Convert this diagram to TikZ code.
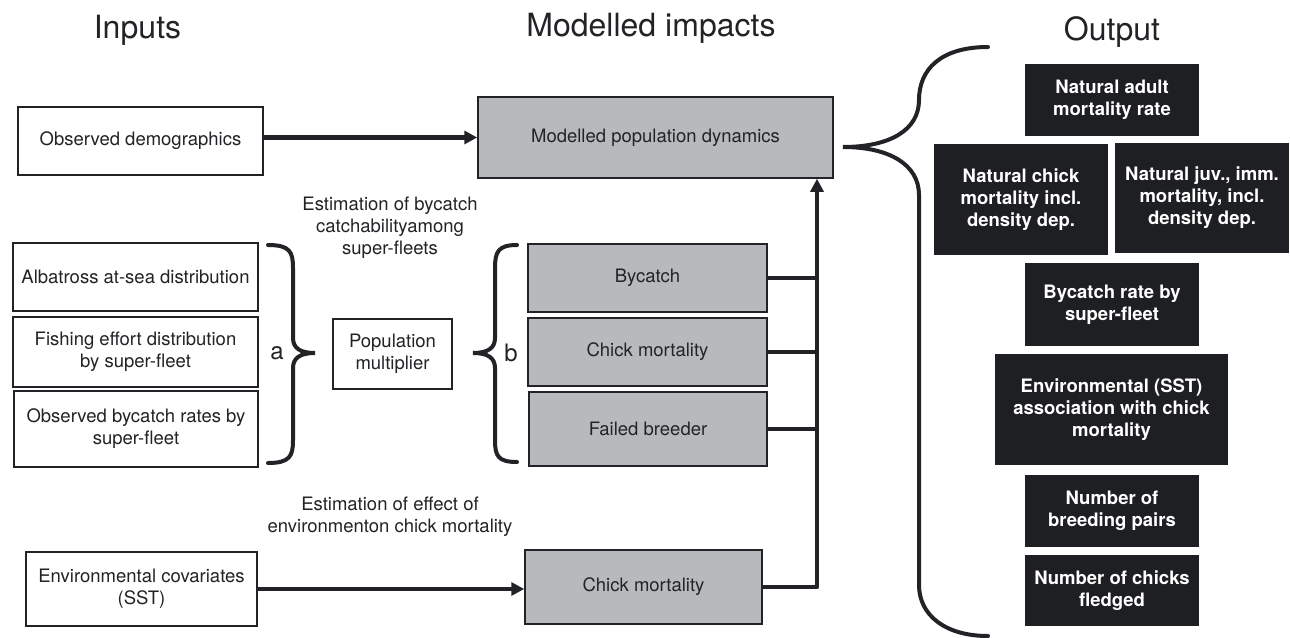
\documentclass[tikz,border=0pt]{standalone}
\usepackage{fontspec}
\setmainfont{TeX Gyre Heros}
\usetikzlibrary{arrows.meta}
\definecolor{modgrey}{HTML}{B8B9BD}
\definecolor{outblack}{HTML}{1E1F22}
\definecolor{ink}{HTML}{222326}
\begin{document}
\begin{tikzpicture}[x=1pt,y=-1pt,>={Triangle[length=13pt,width=13pt]},
  every node/.style={font=\fontsize{18.5}{22}\selectfont,text=ink,align=center,inner sep=0pt},
  title/.style={font=\fontsize{32}{36}\selectfont,anchor=base},
  inbox/.style 2 args={draw=ink,line width=1.5pt,fill=white,minimum width=#1pt,minimum height=#2pt},
  modbox/.style 2 args={inbox={#1}{#2},fill=modgrey},
  outbox/.style 2 args={fill=outblack,text=white,font=\fontsize{18.5}{22}\selectfont\bfseries,minimum width=#1pt,minimum height=#2pt},
  conn/.style={draw=ink,line width=4.5pt},
  brace/.style={draw=ink,line width=4pt,line cap=round}]
\useasboundingbox (0,0) rectangle (1290,637);
\node[title] (tin) at (137.5,38) {Inputs};
\node[title] (tmod) at (651,36) {Modelled impacts};
\node[title] (tout) at (1112,40) {Output};

\node[inbox={245}{68}] (obs) at (140.5,141) {Observed demographics};
\node[modbox={355}{81}] (model) at (655.5,137.5) {Modelled population dynamics};
\node[inbox={245}{68}] (alb) at (135.5,277) {Albatross at-sea distribution};
\node[inbox={245}{70}] (fish) at (135.5,352) {Fishing effort distribution\\by super-fleet};
\node[inbox={244}{76}] (obsby) at (136,429) {Observed bycatch rates by\\super-fleet};
\node[inbox={119}{70}] (popm) at (392.5,354) {Population\\multiplier};
\node[modbox={239}{68}] (byc) at (647.5,278) {Bycatch};
\node[modbox={239}{68}] (chickm) at (647.5,352) {Chick mortality};
\node[modbox={238}{74}] (fail) at (648,429) {Failed breeder};
\node[inbox={231}{74}] (env) at (141.5,589) {Environmental covariates\\(SST)};
\node[modbox={237}{74}] (chickenv) at (643.5,587) {Chick mortality};
\node (estby) at (390,228) {Estimation of bycatch\\catchabilityamong\\super-fleets};
\node (estenv) at (390,517) {Estimation of effect of\\environmenton chick mortality};
\node[font=\fontsize{24}{28}\selectfont] (la) at (277,353) {a};
\node[font=\fontsize{24}{28}\selectfont] (lb) at (511,353) {b};

\node[outbox={174}{72}] (natadult) at (1112,100) {Natural adult\\mortality rate};
\node[outbox={174}{111}] (natchick) at (1021,199.5) {Natural chick\\mortality incl.\\density dep.};
\node[outbox={174}{110}] (natjuv) at (1202,198) {Natural juv., imm.\\mortality, incl.\\density dep.};
\node[outbox={174}{83}] (byrate) at (1112,304.5) {Bycatch rate by\\super-fleet};
\node[outbox={233}{111}] (envsst) at (1111.5,409.5) {Environmental (SST)\\association with chick\\mortality};
\node[outbox={174}{72}] (pairs) at (1112,511) {Number of\\breeding pairs};
\node[outbox={174}{71}] (fledged) at (1112,590.5) {Number of chicks\\fledged};

\coordinate (trunk) at (817,587);
\draw[conn,->] (obs.east |- model.west) -- (model.west);
\draw[conn,->] (env.east) -- (env.east -| chickenv.west);
\draw[conn,line join=round] (chickenv.east) -- (trunk |- chickenv.east) -- (trunk |- byc.east);
\draw[conn,->] (trunk |- byc.east) -- (trunk |- model.south);
\foreach \b in {byc,chickm,fail}
  \draw[conn] (\b.east) -- (\b.east -| trunk);

\draw[brace] (268,245) .. controls (290,245) and (293,252) .. (293,268) -- (293,338)
  .. controls (293,348) and (300,353) .. (315,353) .. controls (300,353) and (293,358) .. (293,368)
  -- (293,440) .. controls (293,456) and (290,463) .. (268,463);
\draw[brace] (517,245) .. controls (498,245) and (495,252) .. (495,268) -- (495,338)
  .. controls (495,348) and (488,353) .. (473,353) .. controls (488,353) and (495,358) .. (495,368)
  -- (495,440) .. controls (495,456) and (498,462) .. (517,462);
\draw[brace] (988,47) .. controls (940,47) and (919,70) .. (919,100)
  .. controls (919,130) and (890,147) .. (843,147) .. controls (890,147) and (919,165) .. (919,195)
  -- (919,585) .. controls (919,615) and (945,636) .. (988,636);
\end{tikzpicture}
\end{document}
